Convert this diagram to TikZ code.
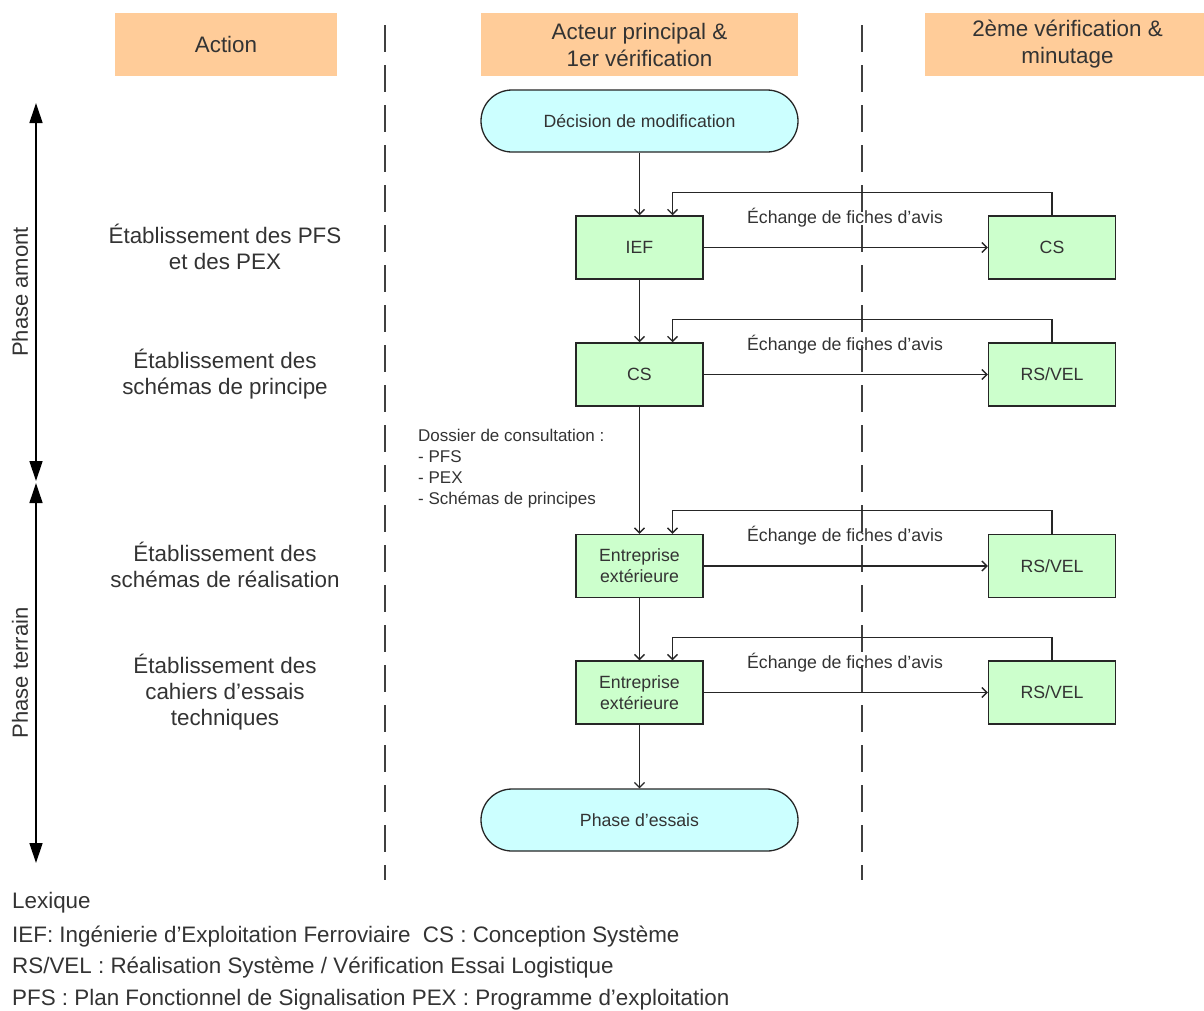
\documentclass[tikz,border=0pt]{standalone}
\usepackage{fontspec}
\setmainfont{Liberation Sans}
\usetikzlibrary{arrows.meta}
\definecolor{headorange}{RGB}{255,204,153}
\definecolor{boxgreen}{RGB}{204,255,204}
\definecolor{termcyan}{RGB}{204,255,255}

\begin{document}
\begin{tikzpicture}[x=1pt,y=-1pt,
  every node/.style={text=black!80},
  hdr/.style={fill=headorange, minimum height=63pt, align=center, font=\fontsize{22.4}{27}\selectfont},
  term/.style={draw=black!85, line width=1.3pt, fill=termcyan, rounded corners=31pt, minimum width=317pt, minimum height=62pt, font=\fontsize{17.7}{21}\selectfont},
  actbox/.style={draw=black!85, line width=1.5pt, fill=boxgreen, minimum width=127pt, minimum height=63pt, align=center, font=\fontsize{17.7}{21}\selectfont},
  action/.style={align=center, font=\fontsize{22.4}{26}\selectfont},
  small/.style={font=\fontsize{17.7}{21}\selectfont},
  lex/.style={anchor=west, inner sep=0pt, font=\fontsize{22.4}{26}\selectfont},
  arr/.style={draw=black!85, line width=1.3pt, -{Straight Barb[length=5pt,width=10pt]}},
  phasearr/.style={line width=1.3pt, {Triangle[length=20pt,width=13pt]}-{Triangle[length=20pt,width=13pt]}},
  sep/.style={draw=black!75, line width=1.5pt, dash pattern=on 27pt off 13pt}]
\useasboundingbox (0,0) rectangle (1204,1010);

% en-tetes
\node[hdr, minimum width=222pt] (hAction) at (226,44.5) {Action};
\node[hdr, minimum width=317pt] (hActeur) at (639.5,44.5) {Acteur principal \&\\1er vérification};
\node[hdr, minimum width=285pt] (hVerif) at (1067.5,44.5) {2ème vérification \&\\minutage};

% separations
\draw[sep] (385,25) -- (385,880);
\draw[sep] (862,25) -- (862,880);

% phases
\coordinate (amontTop) at (36,103);
\coordinate (amontBot) at (36,481);
\coordinate (terrainTop) at (36,483);
\coordinate (terrainBot) at (36,863);
\draw[phasearr] (amontTop) -- (amontBot);
\draw[phasearr] (terrainTop) -- (terrainBot);
\node[rotate=90, font=\fontsize{22}{26}\selectfont] (amont) at (20,292) {Phase amont};
\node[rotate=90, font=\fontsize{22}{26}\selectfont] (terrain) at (20,673) {Phase terrain};

% actions
\node[action] (actPFS) at (225,247) {Établissement des PFS\\et des PEX};
\node[action] (actPrincipe) at (225,374) {Établissement des\\schémas de principe};
\node[action] (actReal) at (225,565) {Établissement des\\schémas de réalisation};
\node[action] (actEssais) at (225,692) {Établissement des\\cahiers d'essais\\techniques};

% acteurs
\node[term] (decision) at (639.5,121) {Décision de modification};
\node[actbox] (ief) at (639.5,247.5) {IEF};
\node[actbox] (csA) at (639.5,374.5) {CS};
\node[actbox] (entA) at (639.5,566) {Entreprise\\extérieure};
\node[actbox] (entB) at (639.5,692.5) {Entreprise\\extérieure};
\node[term] (essais) at (639.5,820) {Phase d'essais};

% verifications
\node[actbox] (csB) at (1052,247.5) {CS};
\node[actbox] (rsA) at (1052,374.5) {RS/VEL};
\node[actbox] (rsB) at (1052,566) {RS/VEL};
\node[actbox] (rsC) at (1052,692.5) {RS/VEL};

\node[font=\fontsize{17}{21}\selectfont, align=left, anchor=west, inner sep=0pt] (dossier) at (418,469) {Dossier de consultation :\\- PFS\\- PEX\\- Schémas de principes};

% flux principal
\draw[arr] (decision) -- (ief);
\draw[arr] (ief) -- (csA);
\draw[arr] (csA) -- (entA);
\draw[arr] (entA) -- (entB);
\draw[arr] (entB) -- (essais);

% echanges
\draw[arr] (ief) -- (csB);
\draw[arr] (csA) -- (rsA);
\draw[arr] (entA) -- (rsB);
\draw[arr] (entB) -- (rsC);
\draw[arr] (csB.north) -- ++(0,-23) -| ([xshift=33pt]ief.north);
\draw[arr] (rsA.north) -- ++(0,-23) -| ([xshift=33pt]csA.north);
\draw[arr] (rsB.north) -- ++(0,-23) -| ([xshift=33pt]entA.north);
\draw[arr] (rsC.north) -- ++(0,-23) -| ([xshift=33pt]entB.north);
\node[small] (echA) at (845,218) {Échange de fiches d'avis};
\node[small] (echB) at (845,345) {Échange de fiches d'avis};
\node[small] (echC) at (845,536) {Échange de fiches d'avis};
\node[small] (echD) at (845,663) {Échange de fiches d'avis};

% lexique
\node[lex] (lexTitre) at (12,903) {Lexique};
\node[lex] (lexA) at (12,937) {IEF: Ingénierie d’Exploitation Ferroviaire\ \ CS : Conception Système};
\node[lex] (lexB) at (12,968) {RS/VEL : Réalisation Système / Vérification Essai Logistique};
\node[lex] (lexC) at (12,1000) {PFS : Plan Fonctionnel de Signalisation PEX : Programme d’exploitation};
\end{tikzpicture}
\end{document}
